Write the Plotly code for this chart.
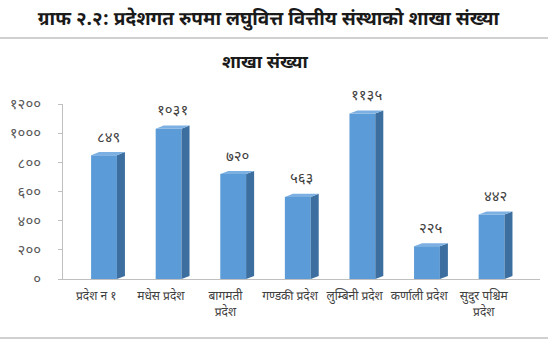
import plotly.graph_objects as go

categories = ["प्रदेश न १", "मधेस प्रदेश", "बागमती<br>प्रदेश", "गण्डकी प्रदेश",
              "लुम्बिनी प्रदेश", "कर्णाली प्रदेश", "सुदुर पश्चिम<br>प्रदेश"]
values = [849, 1031, 720, 563, 1135, 225, 442]
value_labels = ["८४९", "१०३१", "७२०", "५६३", "११३५", "२२५", "४४२"]
y_ticks = [0, 200, 400, 600, 800, 1000, 1200]
y_tick_labels = ["०", "२००", "४००", "६००", "८००", "१०००", "१२००"]

FONT = "Noto Sans Devanagari, Lohit Devanagari, Noto Sans, sans-serif"
W = 0.40     # bar front width (category units)
DX = 0.124   # depth offset x
DY = 21      # depth offset y (value units)

xs = list(range(len(values)))

fig = go.Figure()

# front faces
fig.add_trace(go.Bar(x=xs, y=values, width=W, marker=dict(color="#5B9BD8", line=dict(width=0)),
                     hoverinfo="skip"))

# side faces & tops (3D effect)
sx, sy, tx, ty = [], [], [], []
for i, v in zip(xs, values):
    r = i + W / 2
    l = i - W / 2
    sx += [r, r + DX, r + DX, r, r, None]
    sy += [0, DY, v + DY, v, 0, None]
    tx += [l, l + DX, r + DX, r, l, None]
    ty += [v, v + DY, v + DY, v, v, None]
fig.add_trace(go.Scatter(x=sx, y=sy, fill="toself", fillcolor="#3C6E9F", mode="lines",
                         line=dict(width=0, color="#3C6E9F"), hoverinfo="skip"))
fig.add_trace(go.Scatter(x=tx, y=ty, fill="toself", fillcolor="#7DB0E2", mode="lines",
                         line=dict(width=0, color="#7DB0E2"), hoverinfo="skip"))

# value labels
for i, v, t in zip(xs, values, value_labels):
    fig.add_annotation(x=i + DX / 2, y=v, text=t, showarrow=False, yanchor="middle",
                       yshift=17, font=dict(family=FONT, size=15, color="#404040"))

fig.update_layout(
    width=548, height=350,
    margin=dict(l=63, r=8, t=104, b=71),
    paper_bgcolor="white", plot_bgcolor="white",
    showlegend=False,
    title=dict(text="<b>ग्राफ २.२: प्रदेशगत रुपमा लघुवित्त वित्तीय संस्थाको शाखा संख्या</b>",
               x=0.49, xanchor="center", y=1 - 18 / 350, yanchor="middle",
               font=dict(family=FONT, size=19, color="#1A1A1A")),
    font=dict(family=FONT),
    bargap=0.5,
)

fig.update_xaxes(range=[-0.635, 6.75], tickmode="array",
                 tickvals=[i - 0.12 for i in xs], ticktext=categories,
                 tickfont=dict(family=FONT, size=12, color="#404040"),
                 showline=True, linecolor="#BFBFBF", linewidth=1, ticks="", showgrid=False,
                 zeroline=False, ticklabelstandoff=6)
fig.update_yaxes(range=[0, 1200], tickmode="array", tickvals=y_ticks, ticktext=y_tick_labels,
                 tickfont=dict(family=FONT, size=15, color="#595959"),
                 showline=True, linecolor="#BFBFBF", linewidth=1, ticks="outside", ticklen=4,
                 tickcolor="#BFBFBF", showgrid=False, zeroline=False, ticklabelstandoff=14)

# chart title and frame lines
fig.add_annotation(text="<b>शाखा संख्या</b>", xref="paper", yref="paper",
                   x=(265 - 63) / 477, y=(279 - 63) / 175, showarrow=False,
                   xanchor="center", yanchor="middle",
                   font=dict(family=FONT, size=18, color="#1A1A1A"))
for py in (38, 338):
    fig.add_shape(type="line", xref="paper", yref="paper",
                  x0=(0 - 63) / 477, x1=(548 - 63) / 477,
                  y0=(279 - py) / 175, y1=(279 - py) / 175,
                  line=dict(color="#D0D0D0", width=2))

fig.write_html("out.html")
